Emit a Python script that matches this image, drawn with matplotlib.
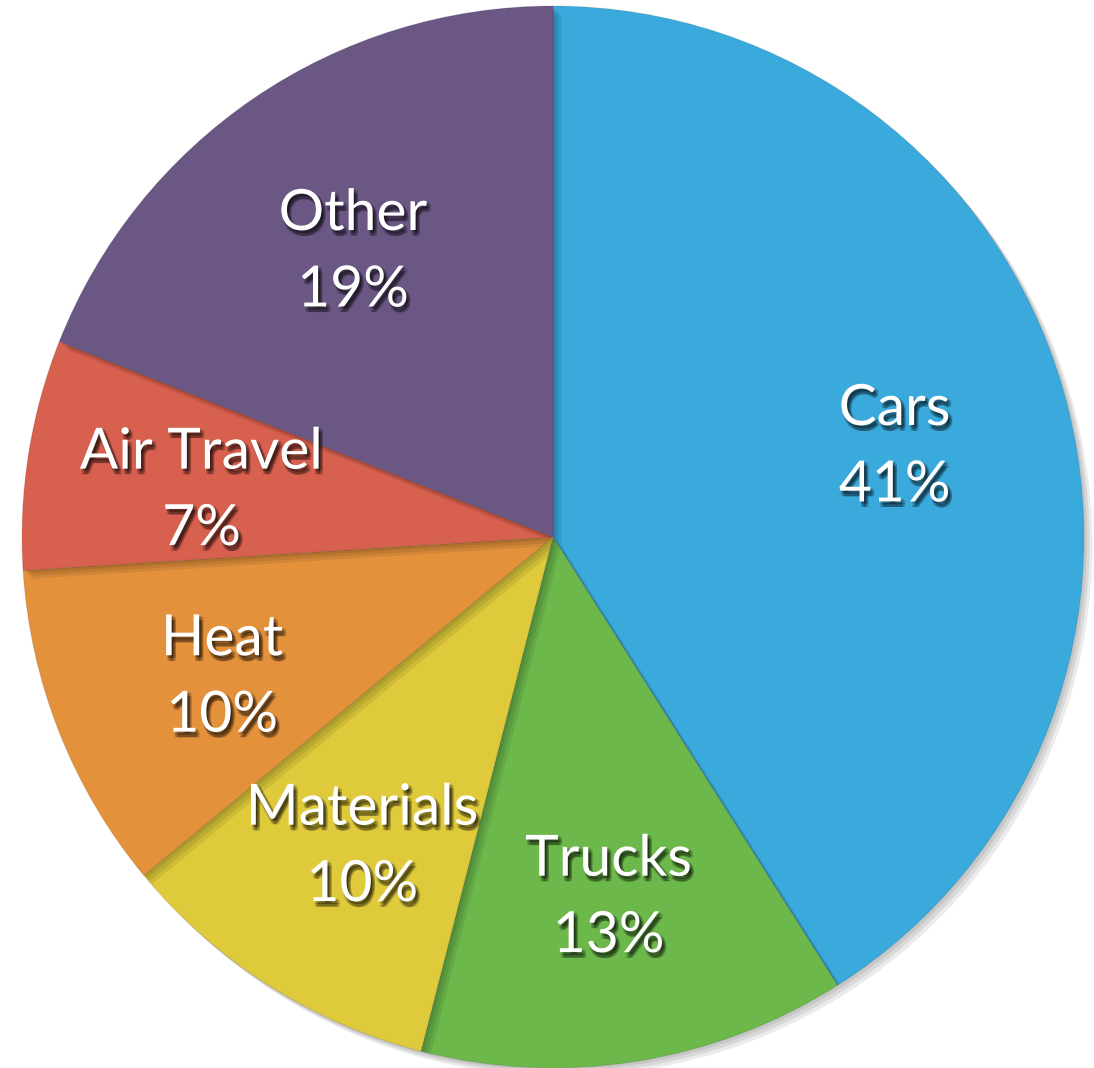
import matplotlib.pyplot as plt
import matplotlib.patheffects as pe

# data
categories = ['Cars', 'Trucks', 'Materials', 'Heat', 'Air Travel', 'Other']
shares = [41, 13, 10, 10, 7, 19]
colors = ['#3aaadd', '#6cb84b', '#dfca3b', '#e3913b', '#d8604f', '#6b5784']

W, H = 1094, 1068
fig = plt.figure(figsize=(W / 100, H / 100), dpi=100)
ax = fig.add_axes([0, 0, 1, 1])

labels = [f'{c}\n{v}%' for c, v in zip(categories, shares)]

wedges, texts = ax.pie(
    shares, labels=labels, colors=colors,
    startangle=90, counterclock=False,
    center=(553, H - 537), radius=531,
    labeldistance=0.67,
    wedgeprops=dict(linewidth=1.0, edgecolor=(0, 0, 0, 0.08)),
    textprops=dict(fontsize=41, color='white', family=['Lato', 'DejaVu Sans'],
                   linespacing=1.62),
    frame=True,
)
ax.axis('off')
ax.set_xlim(0, W)
ax.set_ylim(0, H)
ax.set_aspect('equal')

# soft drop shadow under the pie and along slice edges
pie_fx = [pe.SimplePatchShadow(offset=(o, -o), shadow_rgbFace='black', alpha=0.08)
          for o in (6, 4, 2)] + [pe.Normal()]
for w in wedges:
    w.set_path_effects(pie_fx)

# blurred-looking text shadow
txt_fx = [pe.SimplePatchShadow(offset=(dx, dy), shadow_rgbFace='black', alpha=0.18)
          for dx, dy in [(1, -2), (3, -2), (2, -4), (2, -1), (3, -4), (1, -4)]] + [pe.Normal()]
for t in texts:
    x, y = t.get_position()
    t.set_position((x, y - 10))
    t.set_ha('center')
    t.set_va('center')
    t.set_multialignment('center')
    t.set_path_effects(txt_fx)

fig.savefig('out.png', dpi=100, facecolor='white')
